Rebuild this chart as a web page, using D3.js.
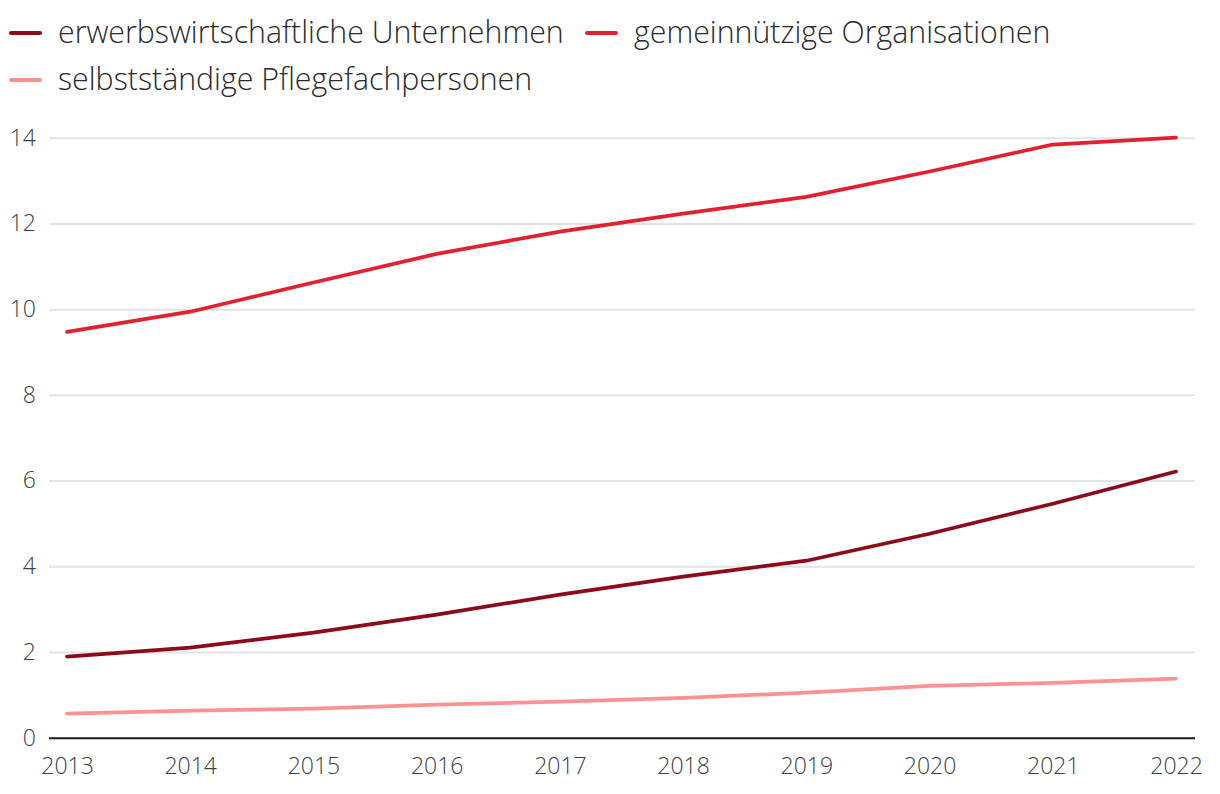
<!DOCTYPE html>
<html><head><meta charset="utf-8">
<script src="https://cdn.jsdelivr.net/npm/d3@7"></script>
<style>
body{margin:0;background:#fff;}
text{font-family:"Open Sans",sans-serif;font-weight:300;}
</style></head>
<body><svg id="c" width="1220" height="794"></svg>
<script>
const years = [2013,2014,2015,2016,2017,2018,2019,2020,2021,2022];
const seriesNames = ["erwerbswirtschaftliche Unternehmen","gemeinnützige Organisationen","selbstständige Pflegefachpersonen"];
const erwerb = [1.89,2.10,2.45,2.87,3.34,3.76,4.13,4.76,5.46,6.21];
const gemein = [9.47,9.94,10.62,11.29,11.81,12.23,12.62,13.21,13.84,14.0];
const selbst = [0.56,0.63,0.68,0.77,0.84,0.93,1.05,1.21,1.28,1.38];
const yTicks = [0,2,4,6,8,10,12,14];
const colors = ["#8c0a19","#e3202f","#ff9191"];
const allSeries = [erwerb,gemein,selbst];

const svg = d3.select("#c");
const x = d3.scalePoint().domain(years).range([67,1176]);
const y = d3.scaleLinear().domain([0,14]).range([737.7,137.7]);

// grid
const gy = svg.append("g").attr("transform","translate(49,0)")
  .call(d3.axisLeft(y).tickValues(yTicks).tickSize(-1146).tickPadding(13).tickFormat(d3.format("d")));
gy.select(".domain").remove();
gy.selectAll(".tick line").attr("stroke","#e3e3e3").attr("stroke-width",2);
gy.selectAll(".tick").filter(d=>d===0).select("line").attr("stroke","#1a1a1a").attr("stroke-width",2);
gy.selectAll(".tick text").attr("font-size",23).attr("fill","#404040").attr("font-family","Open Sans").attr("font-weight",300);

const gx = svg.append("g").attr("transform","translate(0,737.7)")
  .call(d3.axisBottom(x).tickSize(0).tickPadding(20).tickFormat(d3.format("d")));
gx.select(".domain").remove();
gx.selectAll(".tick text").attr("font-size",23).attr("fill","#404040").attr("font-family","Open Sans").attr("font-weight",300);

const line = d3.line().x((d,i)=>x(years[i])).y(d=>y(d));
allSeries.forEach((s,k)=>{
  svg.append("path").datum(s).attr("d",line).attr("fill","none")
    .attr("stroke",colors[k]).attr("stroke-width",3.7).attr("stroke-linecap","round").attr("stroke-linejoin","round");
});

// legend
const legPos = [[10,33],[586,33],[10,80]];
seriesNames.forEach((n,k)=>{
  const [lx,ly]=legPos[k];
  svg.append("line").attr("x1",lx+1).attr("x2",lx+30).attr("y1",ly).attr("y2",ly)
    .attr("stroke",colors[k]).attr("stroke-width",4).attr("stroke-linecap","round");
  svg.append("text").attr("x",lx+48).attr("y",ly+10).attr("font-size",30.3).attr("fill","#2a2a2a").text(n);
});
</script></body></html>
